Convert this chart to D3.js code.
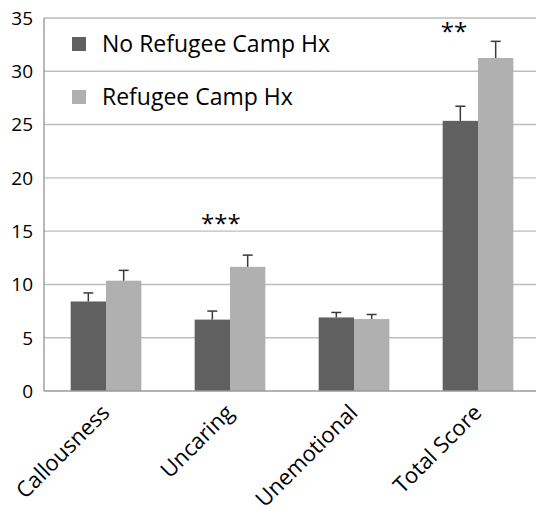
<!DOCTYPE html>
<html>
<head>
<meta charset="utf-8">
<script src="https://cdn.jsdelivr.net/npm/d3@7/dist/d3.min.js"></script>
<style>
  html, body { margin: 0; padding: 0; background: #fff; }
  svg { display: block; }
  text { font-family: "Open Sans", "Noto Sans", sans-serif; fill: #000; }
</style>
</head>
<body>
<svg id="chart" width="536" height="509"></svg>
<script>
// Scale scores by group (mean and upper standard error)
const categories = ["Callousness", "Uncaring", "Unemotional", "Total Score"];
const seriesNames = ["No Refugee Camp Hx", "Refugee Camp Hx"];
const noCampMeans = [8.4, 6.7, 6.9, 25.35];
const noCampErrors = [0.8, 0.8, 0.47, 1.37];
const campMeans = [10.35, 11.65, 6.75, 31.25];
const campErrors = [0.97, 1.1, 0.43, 1.56];
const yTicks = [0, 5, 10, 15, 20, 25, 30, 35];

// significance stars: category, label, level on the value axis
const starCategories = ["Uncaring", "Total Score"];
const starLabels = ["***", "**"];
const starLevels = [16.1, 34.2];
const starSpots = [0.37, 0.16]; // position across the group, 0 = left edge

const colors = ["#606060", "#b0b0b0"];

const svg = d3.select("#chart");
const plotLeft = 44, plotRight = 540, plotTop = 18, plotBottom = 391;

const x = d3.scaleBand().domain(categories).range([plotLeft, plotRight])
  .paddingInner(0.43).paddingOuter(0.215);
const xs = d3.scaleBand().domain([0, 1]).range([0, x.bandwidth()]);
const y = d3.scaleLinear().domain([0, 35]).range([plotBottom, plotTop]);

// horizontal gridlines
svg.append("g").selectAll("line").data(yTicks.filter(d => d > 0)).join("line")
  .attr("x1", plotLeft).attr("x2", 536)
  .attr("y1", d => y(d)).attr("y2", d => y(d))
  .attr("stroke", "#bdbdbd").attr("stroke-width", 1.4);

// y axis labels
svg.append("g").selectAll("text").data(yTicks).join("text")
  .attr("x", 33).attr("y", d => y(d) + 6.8)
  .attr("text-anchor", "end")
  .attr("font-size", 19)
  .text(d => d);

const rows = categories.map((c, i) => ({
  cat: c,
  vals: [
    { s: 0, v: noCampMeans[i], e: noCampErrors[i] },
    { s: 1, v: campMeans[i], e: campErrors[i] }
  ]
}));

const groups = svg.append("g").selectAll("g").data(rows).join("g")
  .attr("transform", d => `translate(${x(d.cat)},0)`);

groups.selectAll("rect").data(d => d.vals).join("rect")
  .attr("x", d => xs(d.s)).attr("width", xs.bandwidth())
  .attr("y", d => y(d.v)).attr("height", d => y(0) - y(d.v))
  .attr("fill", d => colors[d.s]);

// upward error bars
const eb = groups.selectAll("g.err").data(d => d.vals).join("g").attr("class", "err");
eb.append("line")
  .attr("x1", d => xs(d.s) + xs.bandwidth() / 2).attr("x2", d => xs(d.s) + xs.bandwidth() / 2)
  .attr("y1", d => y(d.v)).attr("y2", d => y(d.v + d.e))
  .attr("stroke", "#3a3a3a").attr("stroke-width", 1.5);
eb.append("line")
  .attr("x1", d => xs(d.s) + xs.bandwidth() / 2 - 5).attr("x2", d => xs(d.s) + xs.bandwidth() / 2 + 5)
  .attr("y1", d => y(d.v + d.e)).attr("y2", d => y(d.v + d.e))
  .attr("stroke", "#3a3a3a").attr("stroke-width", 1.5);

// axis lines
svg.append("line").attr("x1", plotLeft).attr("x2", plotLeft).attr("y1", plotTop).attr("y2", plotBottom)
  .attr("stroke", "#9a9a9a").attr("stroke-width", 1.4);
svg.append("line").attr("x1", plotLeft).attr("x2", 536).attr("y1", plotBottom).attr("y2", plotBottom)
  .attr("stroke", "#9a9a9a").attr("stroke-width", 1.4);

// significance markers
svg.append("g").selectAll("text").data(starCategories).join("text")
  .attr("x", (d, i) => x(d) + x.bandwidth() * starSpots[i])
  .attr("y", (d, i) => y(starLevels[i]) + 13)
  .attr("text-anchor", "middle")
  .attr("font-size", 24)
  .attr("fill", "#222")
  .text((d, i) => starLabels[i]);

// category labels
svg.append("g").selectAll("text").data(categories).join("text")
  .attr("transform", d => `translate(${x(d) + x.bandwidth() / 2 + 5},${plotBottom + 23}) rotate(-45)`)
  .attr("text-anchor", "end")
  .attr("font-size", 22)
  .text(d => d);

// legend
const legend = svg.append("g").selectAll("g").data(seriesNames).join("g")
  .attr("transform", (d, i) => `translate(72,${37 + i * 53})`);
legend.append("rect").attr("width", 14).attr("height", 14).attr("fill", (d, i) => colors[i]);
legend.append("text").attr("x", 30).attr("y", 14.5).attr("font-size", 23).text(d => d);
</script>
</body>
</html>
